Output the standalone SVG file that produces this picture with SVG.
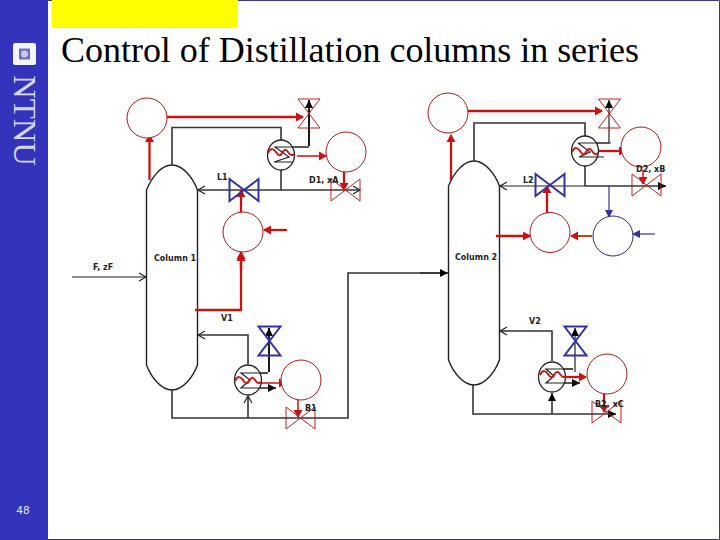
<svg xmlns="http://www.w3.org/2000/svg" width="720" height="540" viewBox="0 0 720 540">
<style>
.pipe{fill:none;stroke:#333;stroke-width:1.6}
.thin{fill:none;stroke:#222;stroke-width:1.2}
.blk{fill:none;stroke:#000;stroke-width:1.8}
.col{fill:#fff;stroke:#222;stroke-width:1.4}
.sig{fill:none;stroke:#cc1111;stroke-width:2.3}
.sigt{fill:none;stroke:#cc1111;stroke-width:1.5}
.wav{fill:none;stroke:#c41a1a;stroke-width:2}
.sigb{fill:none;stroke:#333399;stroke-width:1.2}
.cc{fill:#fff;stroke:#b01818;stroke-width:1}
.cb{fill:#fff;stroke:#2a2a8c;stroke-width:1}
.vr{fill:none;stroke:#c02020;stroke-width:1}
.vb{fill:none;stroke:#3333a0;stroke-width:2}
.hx{fill:#fff;stroke:#222;stroke-width:1.3}
.lbl{font-family:"DejaVu Sans",sans-serif;font-size:8px;font-weight:bold;fill:#222}
</style>
<defs>
<marker id="ao" markerUnits="userSpaceOnUse" markerWidth="10" markerHeight="10" refX="8" refY="5" orient="auto"><path d="M1 1L8 5L1 9" fill="none" stroke="#222" stroke-width="1.2"/></marker>
<marker id="ak" markerUnits="userSpaceOnUse" markerWidth="10" markerHeight="10" refX="8" refY="5" orient="auto"><path d="M0 1L8 5L0 9z" fill="#000"/></marker>
<marker id="ar" markerUnits="userSpaceOnUse" markerWidth="10" markerHeight="10" refX="7" refY="5" orient="auto"><path d="M0 .5L8 5L0 9.500z" fill="#cc1111"/></marker>
<marker id="ab" markerUnits="userSpaceOnUse" markerWidth="10" markerHeight="10" refX="7" refY="5" orient="auto"><path d="M0 1L8 5L0 9z" fill="#333399"/></marker>
<path id="hour" d="M-11-14.500H11L-11 14.500H11Z"/>
<path id="bow" d="M-14.500-11V11L14.500-11V11Z"/>
<path id="wave" d="M-13 0C-10-6-7-4-5-1S-1 4 1 0 5-4 7-1 11 3 13 1"/>
</defs>
<rect width="720" height="540" fill="#fff"/>
<path d="M48 .5H719.500V539.500H48" fill="none" stroke="#3a3a80" stroke-width="1"/>
<g id="sidebar">
<rect width="48" height="540" fill="#3333bb"/>
<rect x="13" y="43" width="23" height="22" rx="2" fill="#f4f4fa"/>
<rect x="19" y="48.500" width="11" height="11" fill="#6f6fc0"/>
<circle cx="24.500" cy="54" r="3.500" fill="#c4c8ec"/>
<text transform="translate(14 75) rotate(90)" font-family="'Liberation Serif',serif" font-size="31" fill="#d5d8f2" textLength="91" lengthAdjust="spacingAndGlyphs">NTNU</text>
<text x="23" y="514" text-anchor="middle" font-family="'DejaVu Sans',sans-serif" font-size="10.500" fill="#e8e8f8">48</text>
</g>
<rect id="highlight" x="52" y="0" width="186" height="28" fill="#ffff00"/>
<text id="title" x="61" y="62" font-family="'Liberation Serif',serif" font-size="36" fill="#000" textLength="578" lengthAdjust="spacing">Control of Distillation columns in series</text>

<g id="column1"><path class="col" d="M146.500 190C152 177 161 165 172 165C183 165 193 178 197.500 190V365C193 377 183 390 172 390C161 390 151 377 146.500 365Z"/><text class="lbl" x="154" y="261">Column 1</text></g>
<g id="column2"><path class="col" d="M448.500 186C454 173 463 161 474 161C485 161 495 174 499.500 186V360C495 372 485 385 474 385C463 385 453 372 448.500 360Z"/><text class="lbl" x="455" y="260">Column 2</text></g>

<g id="connectors">
<path class="pipe" d="M172 165V127.500H281V141"/>
<path class="pipe" d="M281 169V190"/>
<path class="pipe" d="M281 190H198" marker-end="url(#ao)"/>
<path class="pipe" d="M281 190H360" marker-end="url(#ao)"/>
<path class="blk" d="M309 146V100" marker-end="url(#ak)"/>
<path class="thin" d="M275 147H309"/>
<path class="thin" d="M72 277H146" marker-end="url(#ao)"/>
<path class="pipe" d="M172 390V418H348V273H446" />
<path class="pipe" d="M248 418V396" marker-end="url(#ao)"/>
<path class="pipe" d="M248 364V335H198" marker-end="url(#ao)"/>
<path class="blk" d="M269 372V328" marker-end="url(#ak)"/>
<path class="thin" d="M255 373H268"/>
<path class="thin" d="M240 388H276" marker-end="url(#ak)"/>
<path class="pipe" d="M420 273H448" marker-end="url(#ak)"/>

<path class="pipe" d="M474 161V123H585V136"/>
<path class="pipe" d="M585 166V186"/>
<path class="thin" d="M585 186H500" marker-end="url(#ao)"/>
<path class="pipe" d="M585 186H666" marker-end="url(#ak)"/>
<path class="thin" d="M609 143V100" marker-end="url(#ak)"/>
<path class="thin" d="M578 143H611"/>
<path class="pipe" d="M473 385V414H616" marker-end="url(#ak)"/>
<path class="pipe" d="M552 414V393" marker-end="url(#ak)"/>
<path class="pipe" d="M552 361V331H500" marker-end="url(#ao)"/>
<path class="thin" d="M575 372V328" marker-end="url(#ak)"/>
<path class="thin" d="M553 369H573"/>
<path class="thin" d="M545 383H580" marker-end="url(#ak)"/>

<path class="sig" d="M149.500 180V135" marker-end="url(#ar)"/>
<path class="sig" d="M167 117H303" marker-end="url(#ar)"/>
<path class="sigt" d="M297 156H326" marker-end="url(#ar)"/>
<path class="sig" d="M344 172V190" marker-end="url(#ar)"/>
<path class="sig" d="M241 213V190" marker-end="url(#ar)"/>
<path class="sig" d="M287 230H264" marker-end="url(#ar)"/>
<path class="sig" d="M241 269V252" marker-end="url(#ar)"/>
<path class="sig" d="M195 310H241V254" marker-end="url(#ar)"/>
<path class="sigt" d="M261 383H286" marker-end="url(#ar)"/>
<path class="sigt" d="M298 400V417" marker-end="url(#ar)"/>

<path class="sig" d="M451 180V135" marker-end="url(#ar)"/>
<path class="sig" d="M468 111H602" marker-end="url(#ar)"/>
<path class="sig" d="M598 151H626" marker-end="url(#ar)"/>
<path class="sigt" d="M643 170V184" marker-end="url(#ar)"/>
<path class="sig" d="M547 213V186" marker-end="url(#ar)"/>
<path class="sig" d="M496 236H530" marker-end="url(#ar)"/>
<path style="fill:none;stroke:#d04018;stroke-width:2" d="M592 236H571" marker-end="url(#ar)"/>
<path class="sigb" d="M609 186V217" marker-end="url(#ab)"/>
<path class="sigb" d="M655 234H633" marker-end="url(#ab)"/>
<path class="sig" d="M560 377H586" marker-end="url(#ar)"/>
<path class="sig" d="M604 393V412" marker-end="url(#ar)"/>
</g>

<g id="condenser1"><ellipse class="hx" cx="281" cy="155" rx="13.500" ry="15"/><path class="thin" d="M274 147H309M275 147L289 157L274 162H293"/><use href="#wave" transform="translate(281 153)" class="wav"/></g>
<g id="reboiler1"><ellipse class="hx" cx="248" cy="380" rx="13.500" ry="15"/><path class="thin" d="M251 373H268M254 373H241L250 380L241 388H276"/><use href="#wave" transform="translate(248 381)" class="wav"/></g>
<g id="condenser2"><ellipse class="hx" cx="585" cy="151" rx="13.500" ry="15"/><path class="thin" d="M578 143H609M578 143L590 152L579 157H604"/><use href="#wave" transform="translate(585 152)" class="wav"/></g>
<g id="reboiler2"><ellipse class="hx" cx="552" cy="377" rx="13.500" ry="15"/><path class="thin" d="M552 369H573M558 369H546L554 376L546 383H580"/><use href="#wave" transform="translate(553 375)" class="wav"/></g>

<g id="valves">
<use href="#hour" class="vr" transform="translate(309 113.500)"/>
<use href="#bow" class="vr" transform="translate(345.500 190)"/>
<use href="#bow" class="vb" transform="translate(244 190)"/>
<use href="#hour" class="vb" transform="translate(269.500 341)"/>
<use href="#bow" class="vr" transform="translate(300.500 418)"/>
<use href="#hour" class="vr" transform="translate(609.500 113.500)"/>
<use href="#bow" class="vb" transform="translate(550 185)"/>
<use href="#bow" class="vr" transform="translate(646.500 185)"/>
<use href="#hour" class="vb" transform="translate(575.500 341)"/>
<use href="#bow" class="vr" transform="translate(606.500 412)"/>
</g>

<g id="ctrl-c1-level"><circle class="cc" cx="147" cy="118" r="20"/></g>
<g id="ctrl-c1-top"><circle class="cc" cx="346" cy="152" r="20"/></g>
<g id="ctrl-c1-mid"><circle class="cc" cx="243" cy="232" r="20"/></g>
<g id="ctrl-c1-bot"><circle class="cc" cx="301" cy="380" r="20"/></g>
<g id="ctrl-c2-level"><circle class="cc" cx="448" cy="113" r="20"/></g>
<g id="ctrl-c2-top"><circle class="cc" cx="641" cy="147" r="20"/></g>
<g id="ctrl-c2-mid"><circle class="cc" cx="550" cy="232.500" r="20"/></g>
<g id="ctrl-c2-comp"><circle class="cb" cx="613" cy="236" r="20"/></g>
<g id="ctrl-c2-bot"><circle class="cc" cx="607" cy="374" r="20"/></g>

<g id="labels">
<text class="lbl" x="217" y="180">L1</text>
<text class="lbl" x="309" y="183">D1, xA</text>
<text class="lbl" x="93" y="270">F, zF</text>
<text class="lbl" x="221" y="321">V1</text>
<text class="lbl" x="305" y="411">B1</text>
<text class="lbl" x="523" y="183">L2</text>
<text class="lbl" x="636" y="172">D2, xB</text>
<text class="lbl" x="529" y="324">V2</text>
<text class="lbl" x="595" y="407">B2, xC</text>
</g>
</svg>
